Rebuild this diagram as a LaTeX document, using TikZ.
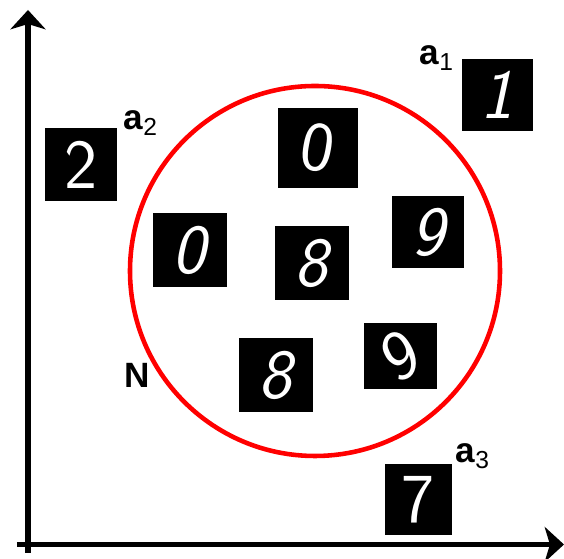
\documentclass[tikz,border=0pt]{standalone}
\usepackage{fontspec}
\setmainfont{Liberation Sans}
\usetikzlibrary{arrows.meta}

\tikzset{
    digitbox/.style={fill=black, text=white, inner sep=0pt,
        minimum width=1.48cm, minimum height=1.48cm,
        font=\fontsize{40}{40}\sffamily},
    tag/.style={inner sep=0pt, font=\fontsize{20}{22}\selectfont\bfseries},
    axisline/.style={line width=3.2pt, -{Stealth[length=11pt, width=20pt, inset=3pt]}}
}

\begin{document}
\begin{tikzpicture}[scale=1]
\useasboundingbox (0,0) rectangle (11.28,11.18);

% Axes
\coordinate (ybot) at (0.56,0.12);
\coordinate (ytop) at (0.56,10.98);
\coordinate (xbeg) at (0.34,0.29);
\coordinate (xend) at (11.28,0.29);
\draw[axisline] (ybot) -- (ytop);
\draw[axisline] (xbeg) -- (xend);

% Neighbourhood
\coordinate (centre) at (6.3,5.76);
\draw[red, line width=2.6pt] (centre) circle (3.7);

% Digits inside
\node[digitbox, minimum width=1.6cm, minimum height=1.6cm] (zeroA) at (6.35,8.22) {\rotatebox{-10}{0}};
\node[digitbox] (zeroB) at (3.79,6.17) {\itshape 0};
\node[digitbox] (eightA) at (6.23,5.91) {\itshape 8};
\node[digitbox, minimum width=1.44cm, minimum height=1.44cm] (nineA) at (8.56,6.54) {\itshape 9};
\node[digitbox, minimum width=1.46cm, minimum height=1.32cm] (nineB) at (8.01,4.06) {\rotatebox{25}{9}};
\node[digitbox] (eightB) at (5.51,3.68) {\itshape 8};

% Digits outside
\node[digitbox, minimum width=1.44cm, minimum height=1.46cm] (two) at (1.62,7.89) {2};
\node[digitbox, minimum width=1.42cm, minimum height=1.44cm] (one) at (9.95,9.28) {\itshape 1};
\node[digitbox, minimum width=1.34cm, minimum height=1.42cm] (seven) at (8.37,1.19) {7};

% Labels
\node[tag] (aone) at (8.74,10.02) {a\textsubscript{\mdseries 1}};
\node[tag] (atwo) at (2.82,8.72) {a\textsubscript{\mdseries 2}};
\node[tag] (athree) at (9.46,2.06) {a\textsubscript{\mdseries 3}};
\node[tag] (nlabel) at (2.74,3.68) {N};

\end{tikzpicture}
\end{document}
